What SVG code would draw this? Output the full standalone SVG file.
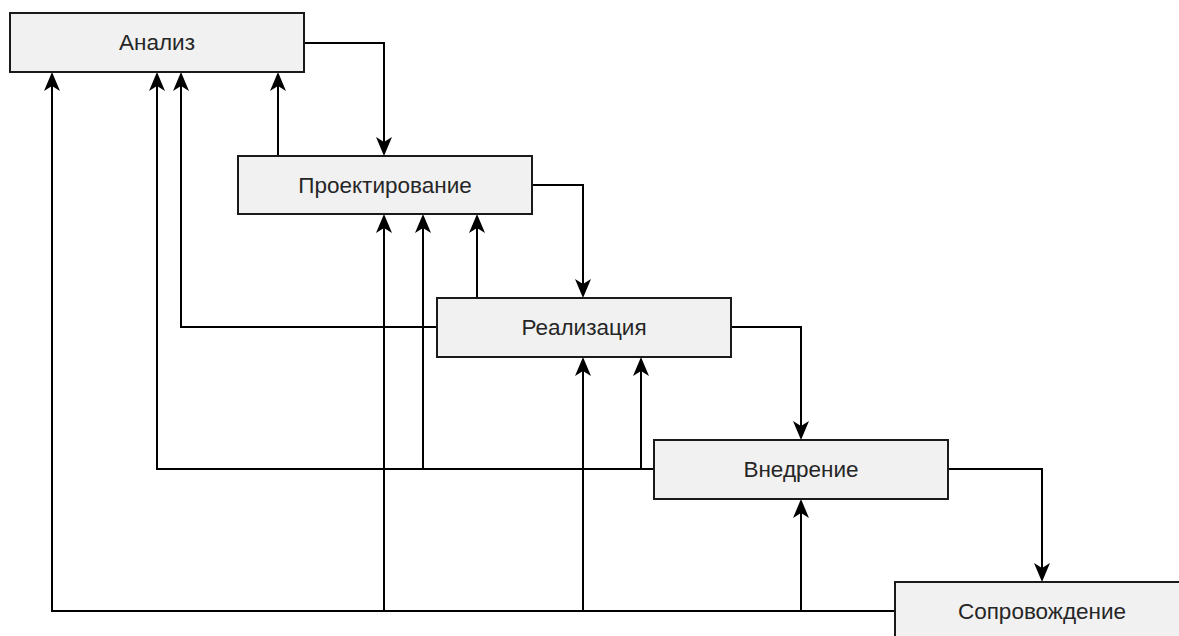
<svg xmlns="http://www.w3.org/2000/svg" width="1179" height="636" viewBox="0 0 1179 636">
  <style>
    .box { fill: #f1f1f1; stroke: #1a1a1a; stroke-width: 2; }
    .label { font-family: "Liberation Sans", Arial, sans-serif; font-size: 22.5px; fill: #262626; text-anchor: middle; }
    .wire { fill: none; stroke: #000; stroke-width: 2; }
  </style>
  <defs>
    <!-- classic notched arrowhead; path end sits at the notch, tip 14px further on -->
    <marker id="arrow" markerUnits="userSpaceOnUse" viewBox="-1 -9 21 18" markerWidth="21" markerHeight="18" refX="5" refY="0" orient="auto">
      <path d="M0,-8 L19,0 L0,8 L5,0 Z" fill="#000"/>
    </marker>
  </defs>

  <rect width="1179" height="636" fill="#fff"/>

  <g id="connectors">
    <!-- forward flow: each stage into the next -->
    <path class="wire" marker-end="url(#arrow)" d="M304,43 H384 V142"/>
    <path class="wire" marker-end="url(#arrow)" d="M532,185 H583 V284"/>
    <path class="wire" marker-end="url(#arrow)" d="M731,327 H801 V426"/>
    <path class="wire" marker-end="url(#arrow)" d="M948,469 H1042 V568"/>

    <!-- feedback: Проектирование -> Анализ -->
    <path class="wire" marker-end="url(#arrow)" d="M278,156 V86"/>

    <!-- feedback from Реализация -->
    <path class="wire" marker-end="url(#arrow)" d="M477,298 V228"/>
    <path class="wire" marker-end="url(#arrow)" d="M437,327 H181 V86"/>

    <!-- feedback from Внедрение -->
    <path class="wire" marker-end="url(#arrow)" d="M654,469 H157 V86"/>
    <path class="wire" marker-end="url(#arrow)" d="M423,469 V228"/>
    <path class="wire" marker-end="url(#arrow)" d="M641,469 V371"/>

    <!-- feedback from Сопровождение -->
    <path class="wire" marker-end="url(#arrow)" d="M895,611 H52 V86"/>
    <path class="wire" marker-end="url(#arrow)" d="M384,611 V228"/>
    <path class="wire" marker-end="url(#arrow)" d="M583,611 V371"/>
    <path class="wire" marker-end="url(#arrow)" d="M801,611 V513"/>
  </g>

  <g id="analysis">
    <rect class="box" x="10" y="13" width="294" height="59"/>
    <text class="label" x="157" y="50">Анализ</text>
  </g>
  <g id="design">
    <rect class="box" x="238" y="156" width="294" height="58"/>
    <text class="label" x="385" y="193">Проектирование</text>
  </g>
  <g id="implementation">
    <rect class="box" x="437" y="298" width="294" height="59"/>
    <text class="label" x="584" y="335">Реализация</text>
  </g>
  <g id="deployment">
    <rect class="box" x="654" y="440" width="294" height="59"/>
    <text class="label" x="801" y="477">Внедрение</text>
  </g>
  <g id="maintenance">
    <rect class="box" x="895" y="582" width="294" height="59"/>
    <text class="label" x="1042" y="619">Сопровождение</text>
  </g>
</svg>
